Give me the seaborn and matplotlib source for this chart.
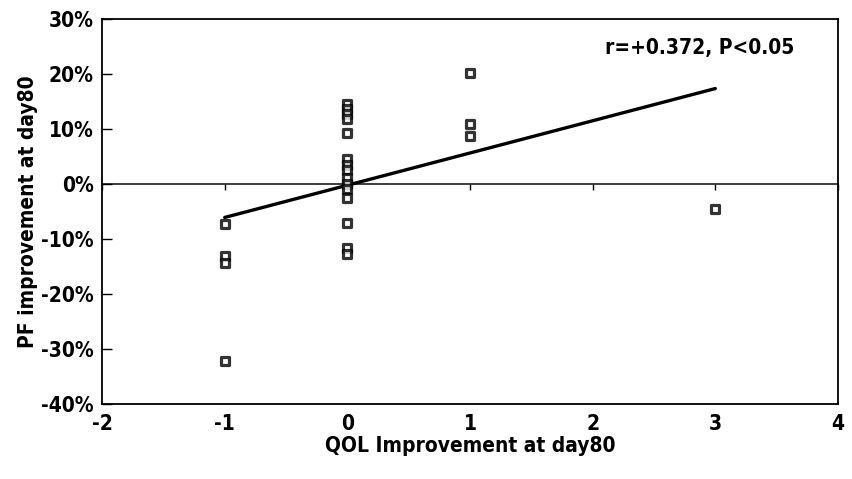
import numpy as np
import pandas as pd
import matplotlib
matplotlib.use('Agg')
import matplotlib.pyplot as plt
import seaborn as sns

# QOL improvement score (x) vs PF improvement in % (y)
qol = [-1, -1, -1, -1,
       0, 0, 0, 0, 0, 0, 0, 0, 0, 0, 0, 0, 0, 0, 0,
       1, 1, 1,
       3]
pf = [-7.3, -13.1, -14.4, -32.2,
      14.5, 13.6, 12.7, 11.8, 9.2, 4.5, 3.5, 2.5, 1.0, 0.0, -1.0, -2.5, -7.1, -11.7, -12.8,
      20.2, 10.9, 8.7,
      -4.5]
x_ticks = [-2, -1, 0, 1, 2, 3, 4]
y_ticks = [-40, -30, -20, -10, 0, 10, 20, 30]
note = 'r=+0.372, P<0.05'

df = pd.DataFrame({'qol': qol, 'pf': pf})

sns.set_theme(style='ticks')
plt.rcParams['font.family'] = ['DejaVu Sans']
plt.rcParams['font.stretch'] = 'condensed'
plt.rcParams['axes.unicode_minus'] = False
plt.rcParams['text.color'] = 'black'
plt.rcParams['axes.labelcolor'] = 'black'
plt.rcParams['xtick.color'] = 'black'
plt.rcParams['ytick.color'] = 'black'

fig = plt.figure(figsize=(8.53, 4.79), dpi=100)
ax = fig.add_axes([0.1196, 0.1566, 0.8628, 0.8038])

# regression line + hollow square markers
sns.regplot(data=df, x='qol', y='pf', ci=None, ax=ax,
            marker='s',
            scatter_kws=dict(s=34, facecolor='white', edgecolor='black', linewidths=2.3, zorder=3),
            line_kws=dict(color='black', lw=2.4))

ax.set_xlim(-2, 4)
ax.set_ylim(-40, 30)
ax.set_xticks(x_ticks)
ax.set_yticks(y_ticks)
ax.set_yticklabels([f'{v}%' for v in y_ticks])
ax.tick_params(axis='x', length=0, pad=7, labelsize=15)
ax.tick_params(axis='y', direction='in', length=7, width=1, labelsize=15, pad=6)
for lab in ax.get_xticklabels() + ax.get_yticklabels():
    lab.set_fontweight('bold')

for sp in ax.spines.values():
    sp.set_visible(True)
    sp.set_color('black')
    sp.set_linewidth(1.3)

# zero line acting as the x axis, small ticks pointing up
zero_pos = (0 - ax.get_ylim()[0]) / (ax.get_ylim()[1] - ax.get_ylim()[0])
sec = ax.secondary_xaxis(zero_pos)
sec.set_xticks(x_ticks)
sec.tick_params(direction='in', length=4, width=1, labelbottom=False)
sec.set_xticklabels([])
sec.spines['bottom'].set_linewidth(1.2)
sec.spines['bottom'].set_color('black')

ax.set_xlabel('QOL Improvement at day80', fontsize=15, fontweight='bold', labelpad=2)
ax.set_ylabel('PF improvement at day80', fontsize=15, fontweight='bold', labelpad=2)

ax.text(2.1, 24.7, note, fontsize=15, va='center', ha='left', fontweight='semibold')

fig.savefig('out.png', dpi=100)
